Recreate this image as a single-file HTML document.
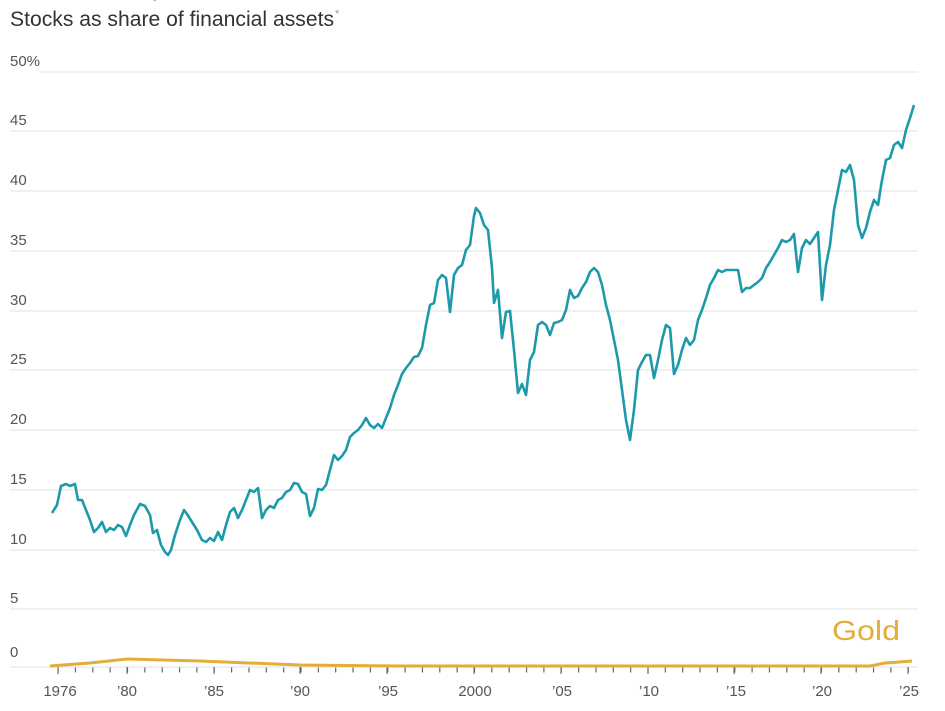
<!DOCTYPE html>
<html><head><meta charset="utf-8"><style>
html,body{margin:0;padding:0;background:#fff;}
body{width:945px;height:711px;overflow:hidden;position:relative;font-family:"Liberation Sans",sans-serif;}
</style></head><body>
<svg width="945" height="711" viewBox="0 0 945 711" xmlns="http://www.w3.org/2000/svg" style="position:absolute;left:0;top:0">
<text x="10" y="-4" font-size="21" fill="#333" font-family="Liberation Sans, sans-serif">Stock ownership</text>
<text x="10" y="26" font-size="21.5" fill="#333" font-family="Liberation Sans, sans-serif" textLength="324" lengthAdjust="spacingAndGlyphs">Stocks as share of financial assets</text>
<text x="335" y="17" font-size="11" fill="#999" font-family="Liberation Sans, sans-serif">*</text>
<g stroke="#e6e6e6" stroke-width="1.3">
<line x1="40" x2="918" y1="72" y2="72"/><line x1="10" x2="918" y1="131" y2="131"/>
<line x1="10" x2="918" y1="191" y2="191"/><line x1="10" x2="918" y1="251" y2="251"/>
<line x1="10" x2="918" y1="311" y2="311"/><line x1="10" x2="918" y1="370" y2="370"/>
<line x1="10" x2="918" y1="430" y2="430"/><line x1="10" x2="918" y1="490" y2="490"/>
<line x1="10" x2="918" y1="550" y2="550"/><line x1="10" x2="918" y1="609" y2="609"/>
<line x1="10" x2="918" y1="667" y2="667"/>
</g>
<g font-size="15" fill="#555" font-family="Liberation Sans, sans-serif">
<text x="10" y="66">50%</text><text x="10" y="125">45</text><text x="10" y="185">40</text>
<text x="10" y="245">35</text><text x="10" y="305">30</text><text x="10" y="364">25</text>
<text x="10" y="424">20</text><text x="10" y="484">15</text><text x="10" y="544">10</text>
<text x="10" y="603">5</text><text x="10" y="657">0</text>
</g>
<g stroke="#555" stroke-width="1">
<line x1="58" x2="58" y1="667" y2="674"/><line x1="127" x2="127" y1="667" y2="674"/>
<line x1="214" x2="214" y1="667" y2="674"/><line x1="300" x2="300" y1="667" y2="674"/>
<line x1="387" x2="387" y1="667" y2="674"/><line x1="474" x2="474" y1="667" y2="674"/>
<line x1="561" x2="561" y1="667" y2="674"/><line x1="648" x2="648" y1="667" y2="674"/>
<line x1="734" x2="734" y1="667" y2="674"/><line x1="821" x2="821" y1="667" y2="674"/>
<line x1="908" x2="908" y1="667" y2="674"/>
</g>
<line x1="57.5" x2="918" y1="670" y2="670" stroke="#666" stroke-width="5" stroke-dasharray="1.2 16.15"/>
<g font-size="15" fill="#555" text-anchor="middle" font-family="Liberation Sans, sans-serif">
<text x="60" y="696">1976</text><text x="127" y="696">’80</text><text x="214" y="696">’85</text>
<text x="300" y="696">’90</text><text x="388" y="696">’95</text><text x="475" y="696">2000</text>
<text x="562" y="696">’05</text><text x="649" y="696">’10</text><text x="736" y="696">’15</text>
<text x="822" y="696">’20</text><text x="909" y="696">’25</text>
</g>
<polyline fill="none" stroke="#e3ad36" stroke-width="3" points="50,666 90,663 127,659 200,661 300,665 400,666 870,666 885,663 912,661"/>
<text x="832" y="640" font-size="28" fill="#e3ad36" font-family="Liberation Sans, sans-serif" textLength="68" lengthAdjust="spacingAndGlyphs">Gold</text>
<polyline fill="none" stroke="#1d9aaa" stroke-width="2.6" stroke-linejoin="round" points="52,513 57,505 61,486 66,484 70,486 75,484 78,500 82,500 86,510 90,520 94,532 98,528 102,522 106,532 110,528 114,530 118,525 122,527 126,536 130,525 134,515 140,504 145,506 150,515 153,533 157,530 161,545 165,552 168,555 171,550 175,535 180,520 184,510 187,514 192,522 197,530 202,540 206,542 210,538 214,541 218,532 222,540 226,525 230,512 234,508 238,518 242,510 246,500 250,490 254,492 258,488 262,518 266,510 270,506 274,508 278,500 282,498 286,492 290,490 294,483 298,484 302,492 306,494 310,516 314,508 318,489 322,490 326,485 330,470 334,455 338,460 342,456 346,450 350,437 354,433 358,430 362,425 366,418 370,425 374,428 378,424 382,428 386,418 390,408 394,395 398,385 402,374 406,368 410,363 414,357 418,356 422,348 426,325 430,305 434,303 438,280 442,275 446,278 450,312 454,275 458,268 462,265 466,250 470,245 474,216 476,208 480,213 484,225 488,230 492,268 494,303 498,290 502,338 506,312 510,311 514,350 518,393 522,384 526,395 530,360 534,352 538,325 542,322 546,325 550,335 554,323 558,322 562,320 566,310 570,290 574,298 578,296 582,288 586,282 590,272 594,268 598,272 602,285 606,305 610,320 614,340 618,360 622,390 626,420 630,440 634,410 638,370 642,362 646,355 650,355 654,378 658,360 662,340 666,325 670,328 674,374 678,365 682,350 686,338 690,345 694,340 698,320 702,310 706,298 710,285 714,278 718,270 722,272 726,270 730,270 734,270 738,270 742,292 746,288 750,288 754,285 758,282 762,278 766,268 770,262 774,255 778,248 782,240 786,242 790,240 794,234 798,272 802,248 806,240 810,244 814,238 818,232 822,300 826,265 830,245 834,210 838,190 842,170 846,172 850,165 854,180 858,225 862,238 866,228 870,212 874,200 878,205 882,180 886,160 890,158 894,145 898,142 902,148 906,130 910,118 914,105"/>
</svg>
</body></html>
